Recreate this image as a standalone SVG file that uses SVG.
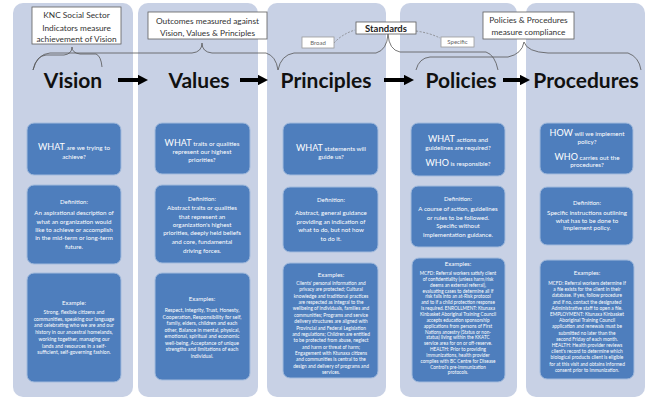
<svg xmlns="http://www.w3.org/2000/svg" width="646" height="401" viewBox="0 0 646 401">
<defs>
<style>
.panel{fill:#c8d1e5}
.box{fill:#4e7ebd;stroke:#a3bbdd;stroke-width:1}
.t{font-family:Lato,"Liberation Sans",sans-serif;fill:#ffffff;text-anchor:middle}
.big{font-size:9px}
.q{font-size:6.3px}
.h{font-size:6px}
.d{font-size:6.2px}
.e{font-size:5.1px}
.title{font-family:Lato,"Liberation Sans",sans-serif;font-weight:bold;font-size:21px;fill:#111;text-anchor:middle}
.lb{fill:#ffffff;stroke:#5e5e5e;stroke-width:0.8}
.lt{font-family:Lato,"Liberation Sans",sans-serif;font-size:8.3px;fill:#333;text-anchor:middle}
.st{font-family:Lato,"Liberation Sans",sans-serif;font-size:6px;fill:#666;text-anchor:middle}
.brace{fill:none;stroke:#555;stroke-width:0.8}
.arrow{stroke:#000;stroke-width:4;fill:none}
.dash{fill:none;stroke:#777;stroke-width:0.7;stroke-dasharray:2 1.5}
</style>
<marker id="ah" markerWidth="2.5" markerHeight="2.6" refX="0.5" refY="1.3" orient="auto" markerUnits="strokeWidth">
<path d="M0,0 L2.5,1.3 L0,2.6 Z" fill="#000"/>
</marker>
</defs>
<rect width="646" height="401" fill="#ffffff"/>

<g id="vision">
<rect class="panel" x="13" y="3" width="120" height="394" rx="10"/>
<text class="title" x="73" y="88">Vision</text>
<rect class="box" x="27" y="123" width="94" height="52" rx="7"/>
<text class="t q" x="74" y="150"><tspan class="big">WHAT</tspan> are we trying to</text>
<text class="t q" x="74" y="159">achieve?</text>
<rect class="box" x="27" y="185" width="94" height="79" rx="7"/>
<text class="t d"><tspan x="74" y="204" class="h">Definition:</tspan><tspan x="74" y="215">An aspirational description of</tspan><tspan x="74" y="224">what an organization would</tspan><tspan x="74" y="232">like to achieve or accomplish</tspan><tspan x="74" y="240">in the mid-term or long-term</tspan><tspan x="74" y="249">future.</tspan></text>
<rect class="box" x="27" y="273" width="94" height="109" rx="7"/>
<text class="t e"><tspan x="74" y="305" class="h">Example:</tspan><tspan x="74" y="314">Strong, flexible citizens and</tspan><tspan x="74" y="320.7">communities, speaking our language</tspan><tspan x="74" y="327.4">and celebrating who we are and our</tspan><tspan x="74" y="334.1">history in our ancestral homelands,</tspan><tspan x="74" y="340.8">working together, managing our</tspan><tspan x="74" y="347.5">lands and resources in a self-</tspan><tspan x="74" y="354.2">sufficient, self-governing fashion.</tspan></text>
</g>

<g id="values">
<rect class="panel" x="138" y="3" width="120" height="394" rx="10"/>
<text class="title" x="199" y="88">Values</text>
<rect class="box" x="155" y="123" width="95" height="51" rx="7"/>
<text class="t q" x="202" y="146"><tspan class="big">WHAT</tspan> traits or qualities</text>
<text class="t q" x="202" y="154">represent our highest</text>
<text class="t q" x="202" y="162">priorities?</text>
<rect class="box" x="155" y="185" width="95" height="78" rx="7"/>
<text class="t d"><tspan x="202" y="201" class="h">Definition:</tspan><tspan x="202" y="210">Abstract traits or qualities</tspan><tspan x="202" y="219">that represent an</tspan><tspan x="202" y="227">organization's highest</tspan><tspan x="202" y="235">priorities, deeply held beliefs</tspan><tspan x="202" y="244">and core, fundamental</tspan><tspan x="202" y="253">driving forces.</tspan></text>
<rect class="box" x="155" y="273" width="95" height="107" rx="7"/>
<text class="t e"><tspan x="202" y="301" class="h">Examples:</tspan><tspan x="202" y="312">Respect, Integrity, Trust, Honesty,</tspan><tspan x="202" y="318.5">Cooperation, Responsibility for self,</tspan><tspan x="202" y="325">family, elders, children and each</tspan><tspan x="202" y="331.5">other, Balance in mental, physical,</tspan><tspan x="202" y="338">emotional, spiritual and economic</tspan><tspan x="202" y="344.5">well-being, Acceptance of unique</tspan><tspan x="202" y="351">strengths and limitations of each</tspan><tspan x="202" y="357.5">individual.</tspan></text>
</g>

<g id="principles">
<rect class="panel" x="267" y="3" width="119" height="394" rx="10"/>
<text class="title" x="326" y="88">Principles</text>
<rect class="box" x="283" y="123" width="95" height="52" rx="7"/>
<text class="t q" x="331" y="151"><tspan class="big">WHAT</tspan> statements will</text>
<text class="t q" x="331" y="159">guide us?</text>
<rect class="box" x="283" y="187" width="95" height="65" rx="7"/>
<text class="t d"><tspan x="331" y="202" class="h">Definition:</tspan><tspan x="331" y="215">Abstract, general guidance</tspan><tspan x="331" y="224">providing an indication of</tspan><tspan x="331" y="232">what to do, but not how</tspan><tspan x="331" y="241">to do it.</tspan></text>
<rect class="box" x="283" y="263" width="95" height="115" rx="7"/>
<text class="t e" style="font-size:4.8px"><tspan x="331" y="277" class="h">Examples:</tspan><tspan x="331" y="285">Clients' personal information and</tspan><tspan x="331" y="291.36">privacy are protected; Cultural</tspan><tspan x="331" y="297.72">knowledge and traditional practices</tspan><tspan x="331" y="304.08">are respected as integral to the</tspan><tspan x="331" y="310.44">wellbeing of individuals, families and</tspan><tspan x="331" y="316.8">communities; Programs and service</tspan><tspan x="331" y="323.16">delivery structures are aligned with</tspan><tspan x="331" y="329.52">Provincial and Federal Legislation</tspan><tspan x="331" y="335.88">and regulations; Children are entitled</tspan><tspan x="331" y="342.24">to be protected from abuse, neglect</tspan><tspan x="331" y="348.6">and harm or threat of harm;</tspan><tspan x="331" y="354.96">Engagement with Ktunaxa citizens</tspan><tspan x="331" y="361.32">and communities is central to the</tspan><tspan x="331" y="367.68">design and delivery of programs and</tspan><tspan x="331" y="374.04">services.</tspan></text>
</g>

<g id="policies">
<rect class="panel" x="400" y="3" width="117" height="394" rx="10"/>
<text class="title" x="461" y="88">Policies</text>
<rect class="box" x="411" y="123" width="94" height="53" rx="7"/>
<text class="t q" x="458" y="142"><tspan class="big">WHAT</tspan> actions and</text>
<text class="t q" x="458" y="150">guidelines are required?</text>
<text class="t q" x="458" y="166"><tspan class="big">WHO</tspan> is responsible?</text>
<rect class="box" x="411" y="186" width="94" height="61" rx="7"/>
<text class="t d"><tspan x="458" y="201" class="h">Definition:</tspan><tspan x="458" y="211">A course of action, guidelines</tspan><tspan x="458" y="220">or rules to be followed.</tspan><tspan x="458" y="228">Specific without</tspan><tspan x="458" y="237">implementation guidance.</tspan></text>
<rect class="box" x="412" y="258" width="93" height="124" rx="7"/>
<text class="t e" style="font-size:4.7px"><tspan x="458" y="266" class="h">Examples:</tspan><tspan x="458" y="275">MCFD: Referral workers satisfy client</tspan><tspan x="458" y="280.85">of confidentiality (unless harm/risk</tspan><tspan x="458" y="286.7">deems an external referral),</tspan><tspan x="458" y="292.55">evaluating cases to determine all if</tspan><tspan x="458" y="298.4">risk falls into an at-Risk protocol</tspan><tspan x="458" y="304.25">and to if a child protection response</tspan><tspan x="458" y="310.1">is required. ENROLLMENT: Ktunaxa</tspan><tspan x="458" y="315.95">Kinbasket Aboriginal Training Council</tspan><tspan x="458" y="321.8">accepts education sponsorship</tspan><tspan x="458" y="327.65">applications from persons of First</tspan><tspan x="458" y="333.5">Nations ancestry (Status or non-</tspan><tspan x="458" y="339.35">status) living within the KKATC</tspan><tspan x="458" y="345.2">service area for on or off-reserve.</tspan><tspan x="458" y="351.05">HEALTH: Prior to providing</tspan><tspan x="458" y="356.9">immunizations, health provider</tspan><tspan x="458" y="362.75">complies with BC Centre for Disease</tspan><tspan x="458" y="368.6">Control's pre-immunization</tspan><tspan x="458" y="374.45">protocols.</tspan></text>
</g>

<g id="procedures">
<rect class="panel" x="526" y="3" width="119" height="394" rx="10"/>
<text class="title" x="586" y="88">Procedures</text>
<rect class="box" x="540" y="123" width="93" height="51" rx="7"/>
<text class="t q" x="587" y="136"><tspan class="big">HOW</tspan> will we implement</text>
<text class="t q" x="587" y="144">policy?</text>
<text class="t q" x="587" y="160"><tspan class="big">WHO</tspan> carries out the</text>
<text class="t q" x="587" y="167">procedures?</text>
<rect class="box" x="540" y="187" width="93" height="58" rx="7"/>
<text class="t d"><tspan x="587" y="205" class="h">Definition:</tspan><tspan x="587" y="215">Specific instructions outlining</tspan><tspan x="587" y="223">what has to be done to</tspan><tspan x="587" y="230">implement policy.</tspan></text>
<rect class="box" x="540" y="260" width="94" height="119" rx="7"/>
<text class="t e" style="font-size:4.8px"><tspan x="587" y="275" class="h">Examples:</tspan><tspan x="587" y="285">MCFD: Referral workers determine if</tspan><tspan x="587" y="291.2">a file exists for the client in their</tspan><tspan x="587" y="297.4">database. If yes, follow procedure</tspan><tspan x="587" y="303.6">and if no, contact the designated</tspan><tspan x="587" y="309.8">Administrative staff to open a file.</tspan><tspan x="587" y="316">EMPLOYMENT: Ktunaxa Kinbasket</tspan><tspan x="587" y="322.2">Aboriginal Training Council</tspan><tspan x="587" y="328.4">application and renewals must be</tspan><tspan x="587" y="334.6">submitted no later than the</tspan><tspan x="587" y="340.8">second Friday of each month.</tspan><tspan x="587" y="347">HEALTH: Health provider reviews</tspan><tspan x="587" y="353.2">client's record to determine which</tspan><tspan x="587" y="359.4">biological products client is eligible</tspan><tspan x="587" y="365.6">for at this visit and obtains informed</tspan><tspan x="587" y="371.8">consent prior to immunization.</tspan></text>
</g>

<g id="connectors">
<line class="arrow" x1="118" y1="80" x2="140" y2="80" marker-end="url(#ah)"/>
<line class="arrow" x1="240" y1="80" x2="260" y2="80" marker-end="url(#ah)"/>
<line class="arrow" x1="384" y1="80" x2="406" y2="80" marker-end="url(#ah)"/>
<line class="arrow" x1="503" y1="80" x2="522" y2="80" marker-end="url(#ah)"/>
<path class="brace" d="M33,70 Q36,56 46,55 L64,55 Q72,54 72,47 Q72,53 80,54 L96,54 Q101,56 102,67"/>
<path class="brace" d="M33,70 Q37,54 50,53 L192,53 Q202,52 202,43 Q202,52 212,53 L266,53 Q276,56 278,70"/>
<path class="brace" d="M278,70 Q281,55 294,53 L376,53 Q387,50 388,34 Q389,50 400,52 L486,52 Q495,55 498,70"/>
<path class="brace" d="M416,70 Q419,58 430,57 L508,57 Q522,54 524,42 Q527,52 548,53 L628,53 Q639,57 641,70"/>
<path class="dash" d="M334,43 Q342,34 355,30"/>
<path class="dash" d="M416,31 Q430,33 440,38"/>
</g>

<g id="label-knc">
<rect class="lb" x="32" y="7" width="89" height="37"/>
<text class="lt"><tspan x="76.5" y="18">KNC Social Sector</tspan><tspan x="76.5" y="30.5">Indicators measure</tspan><tspan x="76.5" y="42">achievement of Vision</tspan></text>
</g>
<g id="label-outcomes">
<rect class="lb" x="148" y="12" width="119" height="27"/>
<text class="lt"><tspan x="207.5" y="24">Outcomes measured against</tspan><tspan x="207.5" y="35.5">Vision, Values &amp; Principles</tspan></text>
</g>
<g id="label-standards">
<rect class="lb" x="356" y="22" width="60" height="12"/>
<text class="lt" x="386" y="31.5" style="font-weight:bold;font-size:9.5px;fill:#222">Standards</text>
</g>
<g id="label-broad">
<rect class="lb" x="302" y="37" width="32" height="11" style="stroke:#999"/>
<text class="st" x="318" y="44.5">Broad</text>
</g>
<g id="label-specific">
<rect class="lb" x="441" y="37" width="33" height="10" style="stroke:#999"/>
<text class="st" x="457.5" y="44">Specific</text>
</g>
<g id="label-compliance">
<rect class="lb" x="483" y="12" width="91" height="27"/>
<text class="lt"><tspan x="528.5" y="23">Policies &amp; Procedures</tspan><tspan x="528.5" y="35">measure compliance</tspan></text>
</g>
</svg>
